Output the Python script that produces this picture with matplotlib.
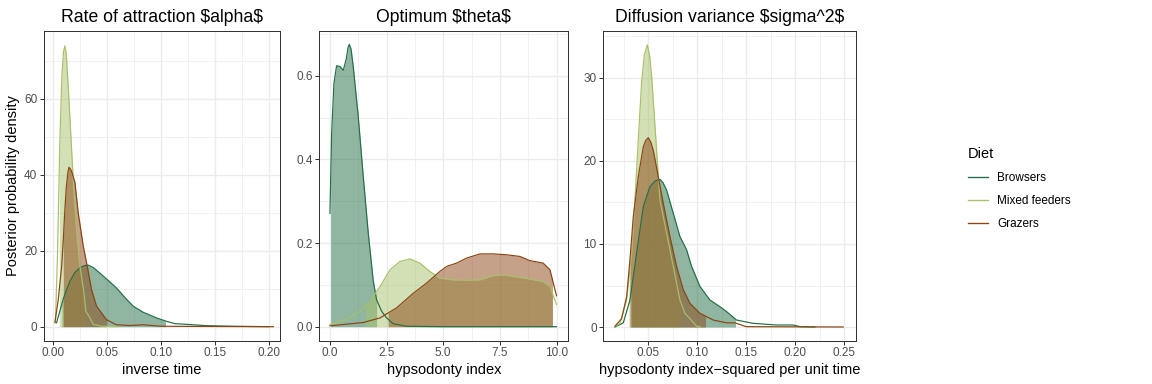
import matplotlib
matplotlib.use("Agg")
import matplotlib.pyplot as plt
from matplotlib.lines import Line2D
import numpy as np

plt.rcParams['font.family'] = ['Liberation Sans', 'DejaVu Sans']

diets = ["Browsers", "Mixed feeders", "Grazers"]
colors = ["#236e46", "#a8c06a", "#8b4513"]

titles = [r"Rate of attraction \$alpha\$", r"Optimum \$theta\$", r"Diffusion variance \$sigma^2\$"]
xlabels = ["inverse time", "hypsodonty index", "hypsodonty index\u2212squared per unit time"]

# ---- Panel 1: alpha ----
alpha_brow_x = [0.003, 0.006, 0.0095, 0.0124, 0.0155, 0.02, 0.025, 0.029, 0.0324, 0.037, 0.0432, 0.05, 0.0586, 0.066, 0.0741, 0.0833, 0.0957, 0.105, 0.1127, 0.1296, 0.142, 0.167, 0.2]
alpha_brow_y = [1.0, 4.0, 7.5, 9.8, 12.0, 14.3, 15.6, 16.1, 16.2, 15.6, 14.1, 12.4, 10.2, 7.8, 5.4, 3.8, 2.3, 1.4, 0.8, 0.5, 0.26, 0.1, 0.0]
alpha_mix_x = [0.002, 0.004, 0.006, 0.008, 0.0095, 0.0108, 0.012, 0.0135, 0.016, 0.019, 0.022, 0.0247, 0.0284, 0.0302, 0.034, 0.037, 0.045, 0.06]
alpha_mix_y = [1.0, 20.0, 48.0, 66.0, 72.5, 74.0, 72.0, 65.0, 52.0, 36.0, 24.0, 16.0, 9.0, 4.0, 2.3, 0.6, 0.1, 0.0]
alpha_graz_x = [0.0015, 0.0046, 0.0078, 0.0093, 0.0108, 0.012, 0.0135, 0.0145, 0.016, 0.0175, 0.0201, 0.0231, 0.0278, 0.0315, 0.0355, 0.0401, 0.0494, 0.0586, 0.071, 0.083, 0.1, 0.204]
alpha_graz_y = [1.1, 7.1, 16.0, 23.0, 31.0, 36.5, 40.5, 42.0, 41.5, 40.5, 38.0, 30.0, 21.2, 15.9, 9.75, 5.4, 1.8, 0.5, 0.3, 0.5, 0.1, 0.0]
alpha_hpd = [(0.008, 0.104), (0.0056, 0.0293), (0.0093, 0.0494)]

# ---- Panel 2: theta ----
theta_brow_x = [0.0, 0.074, 0.176, 0.294, 0.45, 0.588, 0.72, 0.8, 0.853, 0.93, 1.03, 1.25, 1.47, 1.69, 1.91, 2.06, 2.28, 2.5, 2.79, 3.38, 5.0, 10.0]
theta_brow_y = [0.271, 0.462, 0.582, 0.624, 0.622, 0.613, 0.64, 0.668, 0.675, 0.664, 0.621, 0.502, 0.359, 0.224, 0.11, 0.064, 0.037, 0.021, 0.007, 0.001, 0.0, 0.0]
theta_mix_x = [0.0, 0.735, 1.32, 1.76, 2.21, 2.65, 3.09, 3.53, 3.97, 4.41, 4.85, 5.44, 6.03, 6.62, 7.21, 7.65, 8.24, 8.82, 9.41, 9.71, 10.0]
theta_mix_y = [0.005, 0.017, 0.037, 0.06, 0.096, 0.136, 0.156, 0.162, 0.152, 0.132, 0.116, 0.112, 0.111, 0.112, 0.122, 0.124, 0.119, 0.114, 0.108, 0.096, 0.053]
theta_graz_x = [0.0, 1.47, 2.21, 2.94, 3.68, 4.26, 4.85, 5.15, 5.59, 6.03, 6.62, 7.21, 7.79, 8.38, 8.82, 9.41, 9.71, 10.0]
theta_graz_y = [0.002, 0.01, 0.021, 0.045, 0.08, 0.104, 0.132, 0.144, 0.152, 0.164, 0.174, 0.174, 0.172, 0.168, 0.158, 0.152, 0.136, 0.074]
theta_hpd = [(0.03, 2.06), (1.57, 9.82), (2.57, 9.82)]

# ---- Panel 3: sigma^2 ----
sig_brow_x = [0.016, 0.0245, 0.0313, 0.0381, 0.0449, 0.0517, 0.057, 0.0619, 0.065, 0.0687, 0.0755, 0.0823, 0.0891, 0.0942, 0.1027, 0.1129, 0.1231, 0.13, 0.14, 0.157, 0.181, 0.198, 0.205, 0.22]
sig_brow_y = [0.0, 0.5, 3.25, 8.9, 14.5, 16.9, 17.6, 17.8, 17.4, 16.5, 13.7, 10.9, 9.3, 7.3, 4.9, 3.25, 2.45, 1.85, 0.84, 0.44, 0.24, 0.24, 0.04, 0.0]
sig_mix_x = [0.016, 0.0211, 0.0279, 0.033, 0.0364, 0.0398, 0.0432, 0.046, 0.049, 0.0515, 0.0534, 0.0585, 0.0619, 0.0687, 0.0755, 0.0823, 0.0874, 0.091, 0.0993, 0.103]
sig_mix_y = [0.04, 0.44, 3.25, 8.9, 15.3, 22.5, 29.5, 32.8, 34.0, 32.6, 30.2, 21.3, 15.3, 11.3, 7.3, 3.25, 1.65, 1.2, 0.1, 0.04]
sig_graz_x = [0.016, 0.0228, 0.0279, 0.0313, 0.0347, 0.0398, 0.0449, 0.0475, 0.05, 0.0525, 0.0551, 0.0602, 0.0653, 0.0721, 0.0789, 0.0857, 0.0925, 0.1027, 0.1163, 0.13, 0.1384, 0.15, 0.249]
sig_graz_y = [0.1, 1.0, 3.65, 8.1, 13.3, 18.1, 21.7, 22.5, 22.8, 22.3, 21.3, 18.1, 14.9, 10.9, 7.3, 4.5, 2.85, 1.65, 0.84, 0.5, 0.5, 0.04, 0.0]
sig_hpd = [(0.033, 0.139), (0.0303, 0.0823), (0.0313, 0.1085)]

panels = [
    ([alpha_brow_x, alpha_mix_x, alpha_graz_x], [alpha_brow_y, alpha_mix_y, alpha_graz_y], alpha_hpd),
    ([theta_brow_x, theta_mix_x, theta_graz_x], [theta_brow_y, theta_mix_y, theta_graz_y], theta_hpd),
    ([sig_brow_x, sig_mix_x, sig_graz_x], [sig_brow_y, sig_mix_y, sig_graz_y], sig_hpd),
]

xlims = [(-0.0086, 0.2102), (-0.47, 10.52), (0.0041, 0.262)]
ylims = [(-3.7, 77.9), (-0.0335, 0.707), (-1.65, 35.66)]
xmajor = [np.arange(0, 0.21, 0.05), np.arange(0, 10.1, 2.5), np.arange(0.05, 0.26, 0.05)]
xminor = [np.arange(0.025, 0.23, 0.05), np.arange(1.25, 10, 2.5), np.arange(0.025, 0.26, 0.05)]
ymajor = [np.arange(0, 61, 20), np.arange(0, 0.61, 0.2), np.arange(0, 31, 10)]
yminor = [np.arange(10, 80, 20), np.arange(0.1, 0.71, 0.2), np.arange(5, 36, 10)]
xfmt = ["{:.2f}", "{:.1f}", "{:.2f}"]
yfmt = ["{:.0f}", "{:.1f}", "{:.0f}"]

fig = plt.figure(figsize=(12, 4), dpi=96)
W, H = 1152, 384
boxes = [(44, 280), (319.3, 568.3), (603.3, 856)]
top, bot = 31, 340.7

for i, (xs, ys, hpd) in enumerate(panels):
    l, r = boxes[i]
    ax = fig.add_axes([l / W, 1 - bot / H, (r - l) / W, (bot - top) / H])
    ax.set_xticks(xmajor[i])
    ax.set_xticklabels([xfmt[i].format(v) for v in xmajor[i]])
    ax.set_yticks(ymajor[i])
    ax.set_yticklabels([yfmt[i].format(v) for v in ymajor[i]])
    ax.set_xticks(xminor[i], minor=True)
    ax.set_yticks(yminor[i], minor=True)
    ax.grid(which='major', color='#EBEBEB', linewidth=1.0, zorder=0)
    ax.grid(which='minor', color='#EBEBEB', linewidth=0.5, zorder=0)
    ax.set_axisbelow(True)
    ax.tick_params(which='minor', length=0)
    ax.tick_params(which='major', length=2.75, width=0.75, color='#333333',
                   labelcolor='#4D4D4D', labelsize=8.8, pad=2.2)
    for s in ax.spines.values():
        s.set_color('#333333')
        s.set_linewidth(0.75)
    # fills (HPD)
    for k in range(3):
        x = np.asarray(xs[k]); y = np.asarray(ys[k])
        lo, hi = hpd[k]
        xf = np.concatenate([[lo], x[(x > lo) & (x < hi)], [hi]])
        yf = np.interp(xf, x, y)
        ax.fill_between(xf, 0, yf, color=colors[k], alpha=0.5, linewidth=0, zorder=2)
    for k in range(3):
        ax.plot(xs[k], ys[k], color=colors[k], linewidth=0.9, zorder=3)
    ax.set_xlim(*xlims[i])
    ax.set_ylim(*ylims[i])
    ax.set_title(titles[i], fontsize=13.2, pad=7)
    ax.set_xlabel(xlabels[i], fontsize=11, labelpad=2.5)
    if i == 0:
        ax.set_ylabel("Posterior probability density", fontsize=11, labelpad=3)

handles = [Line2D([], [], color=c, linewidth=1.0) for c in colors]
leg = fig.legend(handles, diets, title="Diet", loc='upper left',
                 bbox_to_anchor=(962 / W, 1 - 141 / H), frameon=False,
                 fontsize=8.8, title_fontsize=11, handlelength=1.7,
                 handletextpad=0.8, labelspacing=0.95, borderpad=0,
                 alignment='left')

fig.savefig("out.png", dpi=96)
